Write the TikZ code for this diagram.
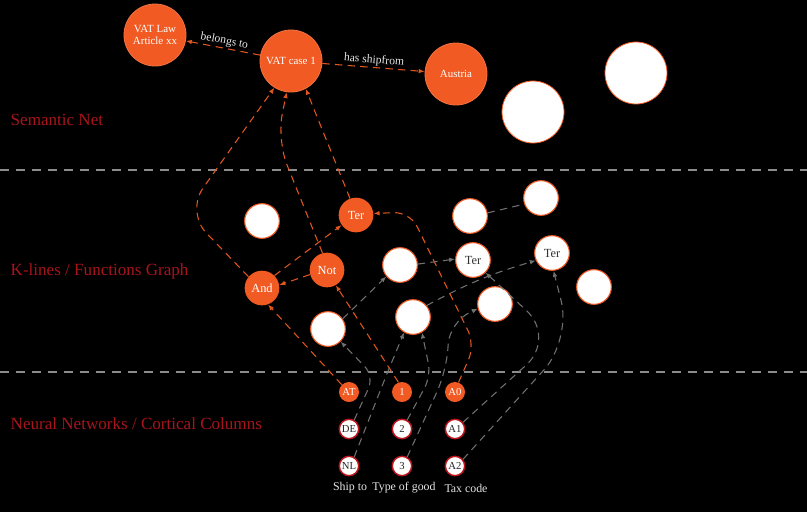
\documentclass[tikz,border=0pt]{standalone}
\usepackage{fontspec}
\setmainfont{Liberation Serif}
\usetikzlibrary{arrows.meta}
\definecolor{org}{HTML}{F15A22}
\definecolor{orgline}{HTML}{E0561E}
\definecolor{lblred}{HTML}{A8141C}
\definecolor{sepgray}{HTML}{8C8C8C}
\definecolor{edgegray}{HTML}{707070}
\definecolor{nnred}{HTML}{C0141C}
\begin{document}
\begin{tikzpicture}[x=0.75pt,y=-0.75pt,
  big/.style={circle,fill=org,draw=org!85!white,line width=0.6pt,text=white,minimum size=46.5pt,inner sep=0pt,font=\fontsize{8.2}{9.5}\selectfont,align=center},
  bigw/.style={circle,fill=white,draw=org,line width=0.6pt,minimum size=46.5pt,inner sep=0pt},
  kor/.style={circle,fill=org,text=white,minimum size=26pt,inner sep=0pt,font=\fontsize{9.3}{10}\selectfont},
  kwh/.style={circle,fill=white,draw=org,line width=0.8pt,text=black!80,minimum size=26pt,inner sep=0pt,font=\fontsize{9.3}{10}\selectfont},
  nor/.style={circle,fill=org,text=white,minimum size=15pt,inner sep=0pt,font=\fontsize{8}{9}\selectfont},
  nwh/.style={circle,fill=white,draw=nnred,line width=1.1pt,text=black!85,minimum size=14.5pt,inner sep=0pt,font=\fontsize{8}{9}\selectfont},
  layer/.style={anchor=west,text=lblred,font=\fontsize{12.8}{14}\selectfont},
  captxt/.style={text=white!90!black,font=\fontsize{8.9}{10}\selectfont},
  elabel/.style={text=white!90!black,font=\fontsize{8.7}{10}\selectfont,sloped,above,inner sep=1pt},
  sepline/.style={draw=sepgray,line width=1.1pt,dash pattern=on 7pt off 5pt},
  oedge/.style={draw=orgline,line width=0.8pt,dash pattern=on 5.5pt off 4pt,-{Latex[length=4.5pt,width=3.5pt]}},
  gedge/.style={draw=edgegray,line width=0.8pt,dash pattern=on 5.5pt off 4pt,-{Latex[length=4.5pt,width=3.5pt]}},
  gline/.style={draw=edgegray,line width=0.8pt,dash pattern=on 5.5pt off 4pt}
]
\fill[black] (0,0) rectangle (807,512);
\useasboundingbox (0,0) rectangle (807,512);

% separators
\coordinate (s1a) at (0,170); \coordinate (s1b) at (807,170);
\coordinate (s2a) at (0,372); \coordinate (s2b) at (807,372);
\draw[sepline] (s1a) -- (s1b);
\draw[sepline] (s2a) -- (s2b);

% layer labels
\node[layer] (l1) at (6,120) {Semantic Net};
\node[layer] (l2) at (6,271) {K-lines / Functions Graph};
\node[layer] (l3) at (6,424) {Neural Networks / Cortical Columns};

% semantic net
\node[big] (law) at (155,35) {VAT Law\\Article xx};
\node[big] (vat) at (291,61) {VAT case 1};
\node[big] (aus) at (456,74) {Austria};
\node[bigw] (s4) at (533,112) {};
\node[bigw] (s5) at (636,73) {};

% k-lines
\node[kwh] (k1) at (262,221) {};
\node[kor] (ter) at (356,215) {Ter};
\node[kor] (not) at (327,270) {Not};
\node[kor] (and) at (262,288) {And};
\node[kwh] (w5) at (328,329) {};
\node[kwh] (w6) at (400,265) {};
\node[kwh] (w7) at (413,317) {};
\node[kwh] (w8) at (470,216) {};
\node[kwh] (terb) at (473,260) {Ter};
\node[kwh] (w10) at (541,198) {};
\node[kwh] (terc) at (552,253) {Ter};
\node[kwh] (w12) at (495,304) {};
\node[kwh] (w13) at (594,287) {};

% neural
\node[nor] (at) at (349,392) {AT};
\node[nor] (one) at (402,392) {1};
\node[nor] (a0) at (455,392) {A0};
\node[nwh] (de) at (349,429) {DE};
\node[nwh] (two) at (402,429) {2};
\node[nwh] (a1) at (455,429) {A1};
\node[nwh] (nl) at (349,466) {NL};
\node[nwh] (three) at (402,466) {3};
\node[nwh] (a2) at (455,466) {A2};
\node[captxt] (c1) at (350,488) {Ship to};
\node[captxt] (c2) at (404,488) {Type of good};
\node[captxt] (c3) at (466,488) {Tax code};

% semantic edges
\draw[oedge] (vat) -- node[elabel] {belongs to} (law);
\draw[oedge] (vat) -- node[elabel] {has shipfrom} (aus);

% orange k-line edges
\coordinate (p1) at (186,212);
\draw[oedge,rounded corners=22pt] (and.140) -- (p1) -- (vat.238);
\coordinate (p2) at (277,140);
\draw[oedge,rounded corners=20pt] (not.105) -- (p2) -- (vat.262);
\draw[oedge] (ter.110) -- (vat.298);
\draw[oedge] (and.45) -- (ter.215);
\draw[oedge] (not.195) -- (and.10);
\draw[oedge] (at.135) -- (and.290);
\draw[oedge] (one.110) -- (not.300);
\coordinate (p3) at (475,345);
\coordinate (p4) at (410,212);
\draw[oedge,rounded corners=12pt] (a0.70) -- (p3) -- (p4) -- (ter.5);

% gray edges
\coordinate (g1) at (374,376);
\draw[gedge,rounded corners=10pt] (de.60) -- (g1) -- (w5.315);
\coordinate (g2) at (386,376);
\draw[gedge,rounded corners=10pt] (nl.60) -- (g2) -- (w7.240);
\coordinate (g3) at (431,376);
\draw[gedge,rounded corners=10pt] (two.60) -- (g3) -- (w7.300);
\coordinate (g4) at (446,372);
\coordinate (g5) at (450,322);
\draw[gedge,rounded corners=16pt] (three.60) -- (g4) -- (g5) -- (w12.195);
\coordinate (g6) at (556,338);
\draw[gedge,rounded corners=30pt] (a1.40) -- (g6) -- (terb.315);
\coordinate (g7) at (571,340);
\draw[gedge,rounded corners=30pt] (a2.40) -- (g7) -- (terc.275);
\draw[gedge] (w5.35) -- (w6.220);
\draw[gedge] (w6.3) -- (terb.177);
\draw[gedge] (w7.40) to[bend left=6] (terc.205);
\draw[gline] (w8.10) -- (w10.200);
\end{tikzpicture}
\end{document}
